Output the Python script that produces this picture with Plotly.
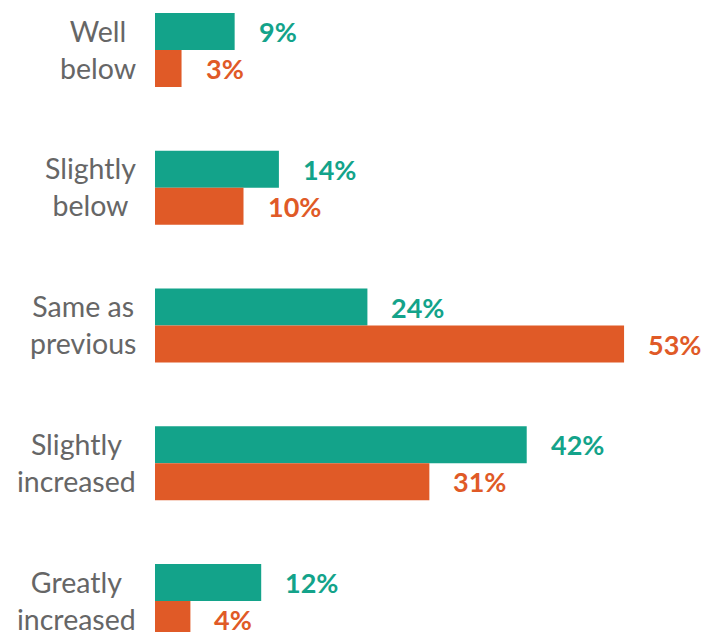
import plotly.graph_objects as go

categories = ["Well<br>below", "Slightly<br>below", "Same as<br>previous", "Slightly<br>increased", "Greatly<br>increased"]
series_a = [9, 14, 24, 42, 12]
series_b = [3, 10, 53, 31, 4]

TEAL = "#13A38A"
ORANGE = "#E05A27"
GRAY = "#666666"
FONT = "Lato"

pos = list(range(len(categories)))
BARGAP = 0.463

fig = go.Figure()
fig.add_trace(go.Bar(name="Series 1", y=pos, x=series_a, orientation="h",
                     marker=dict(color=TEAL, line=dict(width=0))))
fig.add_trace(go.Bar(name="Series 2", y=pos, x=series_b, orientation="h",
                     marker=dict(color=ORANGE, line=dict(width=0))))

# value labels just past the end of each bar
half = (1 - BARGAP) / 4
for i, (a, b) in enumerate(zip(series_a, series_b)):
    fig.add_annotation(x=a, y=i - half, text=f"<b>{a}%</b>", showarrow=False,
                       xanchor="left", yanchor="middle", xshift=22,
                       font=dict(family=FONT, size=27, color=TEAL))
    fig.add_annotation(x=b, y=i + half, text=f"<b>{b}%</b>", showarrow=False,
                       xanchor="left", yanchor="middle", xshift=22,
                       font=dict(family=FONT, size=27, color=ORANGE))

# centred two-line category labels to the left of the bars
for i, cat in enumerate(categories):
    fig.add_annotation(x=0, xref="paper", y=i, text=cat, showarrow=False,
                       xanchor="right", yanchor="middle", align="center",
                       xshift=-17, yshift=1,
                       font=dict(family=FONT, size=28.5, color=GRAY))

fig.update_layout(
    width=717, height=632,
    margin=dict(l=155, r=0, t=0, b=0),
    barmode="group", bargap=BARGAP, bargroupgap=0,
    plot_bgcolor="white", paper_bgcolor="white",
    showlegend=False,
    xaxis=dict(range=[0, 63.5], visible=False, fixedrange=True),
    yaxis=dict(range=[4.225, -0.363], tickvals=pos, showticklabels=False,
               showgrid=False, zeroline=False, showline=False, ticks="",
               fixedrange=True),
)

fig.write_html("out.html")
